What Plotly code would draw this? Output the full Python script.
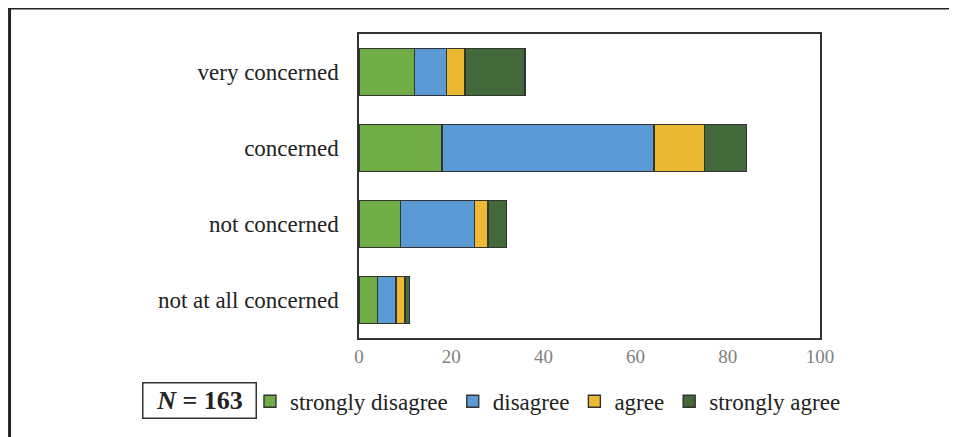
import plotly.graph_objects as go

categories = ["very concerned", "concerned", "not concerned", "not at all concerned"]
series_names = ["strongly disagree", "disagree", "agree", "strongly agree"]
strongly_disagree = [12, 18, 9, 4]
disagree = [7, 46, 16, 4]
agree = [4, 11, 3, 2]
strongly_agree = [13, 9, 4, 1]
colors = ["#70AD47", "#5B9BD5", "#EBBA32", "#43683A"]
x_ticks = [0, 20, 40, 60, 80, 100]

values = [strongly_disagree, disagree, agree, strongly_agree]

fig = go.Figure()
for name, vals, col in zip(series_names, values, colors):
    fig.add_trace(go.Bar(
        y=categories, x=vals, name=name, orientation="h",
        marker=dict(color=col, line=dict(color="#333333", width=1.4)),
    ))

serif = "Liberation Serif"
fig.update_layout(
    barmode="stack",
    bargap=0.375,
    width=957, height=437,
    margin=dict(l=351, r=145, t=26, b=107),
    paper_bgcolor="white", plot_bgcolor="white",
    font=dict(family=serif, color="#222222"),
    xaxis=dict(range=[0, 100], tickvals=x_ticks, showgrid=False, zeroline=False,
               showline=True, linecolor="#333333", linewidth=1.5, mirror=True,
               ticks="", tickfont=dict(family=serif, size=19, color="#808080")),
    yaxis=dict(categoryorder="array", categoryarray=categories[::-1],
               showgrid=False, zeroline=False, showline=True, linecolor="#333333",
               linewidth=1.5, mirror=True, ticks="", ticklabelstandoff=14,
               tickfont=dict(family=serif, size=23, color="#222222")),
    legend=dict(orientation="h", x=-0.2365, xanchor="left", y=-0.208, yanchor="middle",
                font=dict(family=serif, size=23, color="#222222"),
                traceorder="normal", itemwidth=30, bgcolor="rgba(0,0,0,0)"),
    showlegend=True,
)

fig.add_annotation(
    text="<b><i>N</i> = 163</b>", xref="paper", yref="paper",
    x=-0.346, y=-0.204, xanchor="center", yanchor="middle", showarrow=False,
    font=dict(family=serif, size=26, color="#222222"),
    bordercolor="#333333", borderwidth=1.5, borderpad=3, width=106, height=28,
)

# outer frame: only the top and left edges are visible in the reference
fig.add_shape(type="line", xref="paper", yref="paper",
              x0=-0.761, x1=1.40, y0=1.0855, y1=1.0855,
              line=dict(color="#222222", width=3), layer="below")
fig.add_shape(type="line", xref="paper", yref="paper",
              x0=-0.758, x1=-0.758, y0=-0.45, y1=1.09,
              line=dict(color="#222222", width=3), layer="below")

fig.write_html("out.html")
